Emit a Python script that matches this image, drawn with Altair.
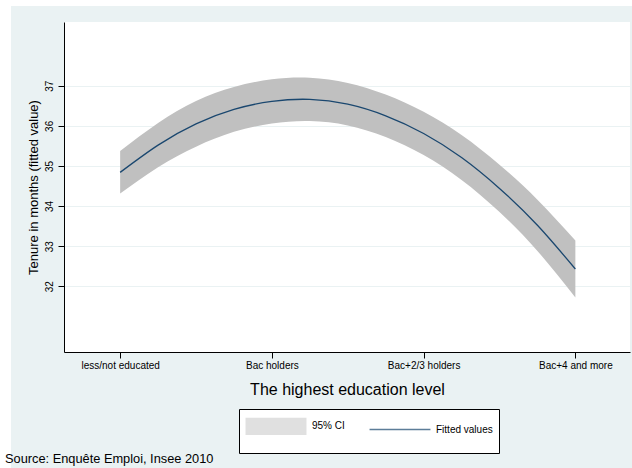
import altair as alt
import pandas as pd

# Education categories on the x axis (coded 1..4)
categories = ["less/not educated", "Bac holders", "Bac+2/3 holders", "Bac+4 and more"]
category_codes = [1, 2, 3, 4]
y_ticks = [32, 33, 34, 35, 36, 37]

# Quadratic fit of tenure on education level, with its 95% confidence band
levels = [1.0, 1.25, 1.5, 1.75, 2.0, 2.25, 2.5, 2.75, 3.0, 3.25, 3.5, 3.75, 4.0]
fitted = [34.84, 35.52, 36.05, 36.41, 36.61, 36.66, 36.54, 36.25, 35.81, 35.21, 34.44, 33.52, 32.43]
ci_upper = [35.37, 36.07, 36.62, 36.97, 37.16, 37.20, 37.07, 36.78, 36.35, 35.77, 35.03, 34.16, 33.14]
ci_lower = [34.31, 34.97, 35.48, 35.85, 36.06, 36.12, 36.01, 35.72, 35.27, 34.65, 33.85, 32.88, 31.72]

legend_entries = ["95% CI", "Fitted values"]
source_note = "Source: Enquête Emploi, Insee 2010"

BG = "#EAF2F3"
BAND = "#C0C0C0"
NAVY = "#1A476F"
FONT = "Liberation Sans"

W, H = 566, 330
PAD = {"left": 64, "top": 22, "right": 2, "bottom": 116}

fit_df = pd.DataFrame({"level": levels, "fit": fitted, "lo": ci_lower, "hi": ci_upper})
key_df = pd.DataFrame({"series": legend_entries})
note_df = pd.DataFrame({"note": [source_note]})
one_df = pd.DataFrame({"k": [0]})

label_expr = "[" + ",".join("'" + c + "'" for c in categories) + "][datum.value - 1]"

x_scale = alt.Scale(domain=[0.63, 4.36], nice=False, zero=False)
y_scale = alt.Scale(domain=[30.36, 38.59], nice=False, zero=False)

x_axis = alt.Axis(
    values=category_codes, labelExpr=label_expr, title="The highest education level",
    grid=False, tickSize=6, labelPadding=2, labelFontSize=10, titleFontSize=16,
    titlePadding=11, titleFontWeight="normal",
)
y_axis = alt.Axis(
    values=y_ticks, title="Tenure in months (fitted value)", grid=True,
    gridColor=BG, gridWidth=1, labelAngle=270, labelAlign="center",
    labelBaseline="bottom", tickSize=6, labelPadding=4, labelFontSize=10,
    titleFontSize=13, titlePadding=4, titleFontWeight="normal",
)

band = alt.Chart(fit_df).mark_area(color=BAND, interpolate="natural").encode(
    x=alt.X("level:Q", scale=x_scale, axis=x_axis),
    y=alt.Y("lo:Q", scale=y_scale, axis=y_axis),
    y2="hi:Q",
)

fit_line = alt.Chart(fit_df).mark_line(
    color=NAVY, strokeWidth=1.3, interpolate="natural"
).encode(x="level:Q", y="fit:Q")

# Legend key: a wide grey swatch for the band, a horizontal stroke for the fit
rect_path = "M-3,-0.85H3V0.85H-3Z"
line_path = "M-3,0H3"
key_legend = alt.Legend(
    title=" ", titleOrient="bottom", titleFontSize=6, titlePadding=3,
    orient="none", legendX=175, legendY=387, direction="horizontal", columns=2,
    columnPadding=21, symbolSize=412, symbolOffset=20, labelOffset=25,
    labelFontSize=10, labelFont=FONT, labelColor="black", strokeColor="black",
    fillColor="white", padding=6, symbolStrokeWidth=1.3, cornerRadius=0,
)
key = alt.Chart(key_df).mark_point(size=412, clip=True, filled=False, strokeWidth=1.3).encode(
    x=alt.value(-500),
    y=alt.value(-500),
    fill=alt.Fill("series:N", scale=alt.Scale(domain=legend_entries, range=[BAND, "transparent"]), legend=key_legend),
    stroke=alt.Stroke("series:N", scale=alt.Scale(domain=legend_entries, range=["transparent", NAVY]), legend=key_legend),
    shape=alt.Shape("series:N", scale=alt.Scale(domain=legend_entries, range=[rect_path, line_path]), legend=key_legend),
)

# White outer margin around the tinted graph region
margin_left = alt.Chart(one_df).mark_rect(color="white").encode(
    x=alt.value(-64), x2=alt.value(-53), y=alt.value(-22), y2=alt.value(446)
)
margin_top = alt.Chart(one_df).mark_rect(color="white").encode(
    x=alt.value(-64), x2=alt.value(568), y=alt.value(-22), y2=alt.value(-16)
)

note = alt.Chart(note_df).mark_text(
    align="left", baseline="alphabetic", fontSize=12.8, font=FONT, color="black"
).encode(x=alt.value(-59), y=alt.value(441), text="note:N")

chart = alt.layer(margin_left, margin_top, band, fit_line, key, note).properties(
    width=W, height=H, padding=PAD, autosize=alt.AutoSizeParams(type="none"),
    background=BG,
).configure_view(fill="white", stroke=None).configure_axis(
    domainColor="black", tickColor="black", labelColor="black", titleColor="black",
    labelFont=FONT, titleFont=FONT,
)

chart.save("out.html", embed_options={"renderer": "svg", "actions": False})
